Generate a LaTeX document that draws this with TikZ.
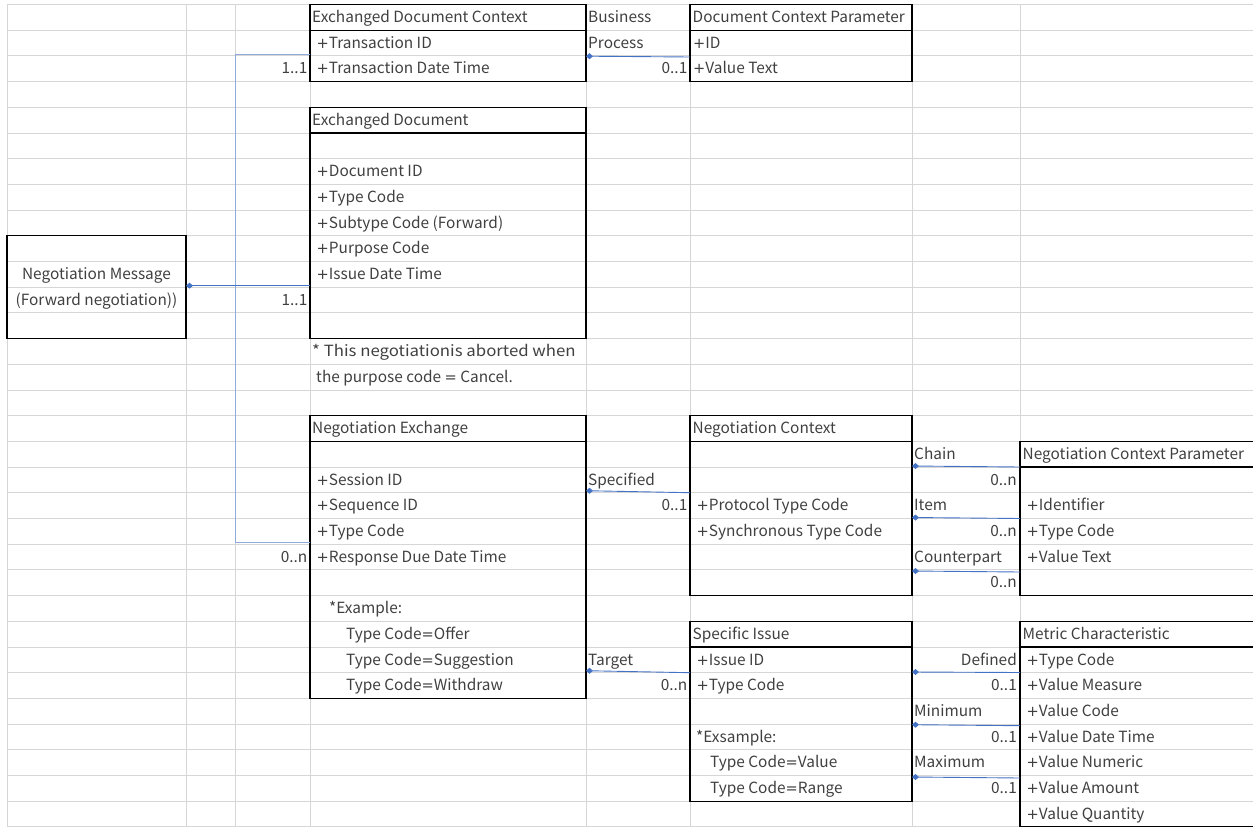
\documentclass[tikz,border=0pt]{standalone}
\usepackage{fontspec}
\usepackage{graphicx}
\setmainfont{Noto Sans CJK JP}
\newfontfamily\signfont{DejaVu Sans}
\usetikzlibrary{arrows.meta}

\definecolor{gridgray}{RGB}{214,214,214}
\definecolor{txt}{RGB}{64,64,64}
\definecolor{link}{RGB}{68,114,196}
\definecolor{buslink}{RGB}{143,170,220}

% baseline of spreadsheet row #1
\newcommand\rowbase[1]{4.5+25.7*(#1)+18}
% text cell: style, name, x, row, text
\newcommand\celltext[5]{\node[lbl,#1] (#2) at (#3,{\rowbase{#4}}) {#5};}
% wide operator signs
\newcommand\plussign{{\signfont\fontsize{14.6}{17}\selectfont +}}
\newcommand\eqsign{{\signfont\fontsize{14.6}{17}\selectfont =}}

\begin{document}
\begin{tikzpicture}[x=1pt,y=-1pt,
  grid/.style={draw=gridgray, line width=0.9pt},
  umlbox/.style={draw=black, line width=1.3pt, anchor=north west, inner sep=0, outer sep=0},
  sep/.style={draw=black, line width=1.3pt},
  lbl/.style={anchor=base west, inner sep=0, text=txt, font=\fontsize{15.4}{17}\selectfont},
  rt/.style={anchor=base east},
  ct/.style={anchor=base},
  link/.style={draw=link, line width=0.9pt, {Diamond[length=7pt,width=6pt]}-},
  bus/.style={draw=buslink, line width=1pt}]

\path[use as bounding box] (0,0) rectangle (1253,827);
\clip (0,0) rectangle (1253,827);

% sheet grid
\foreach \k in {0,...,32}
  \draw[grid] (7,{4.5+25.7*\k}) -- (1260,{4.5+25.7*\k});
\foreach \x in {7,186,235,310,586,690,912,1020}
  \draw[grid] (\x,4.5) -- (\x,830);

% class boxes
\node[umlbox, minimum width=276pt, minimum height=77.1pt] (edc) at (310,4.5) {};
\node[umlbox, minimum width=222pt, minimum height=77.1pt] (dcp) at (690,4.5) {};
\node[umlbox, minimum width=276pt, minimum height=231.3pt] (ed) at (310,107.3) {};
\node[umlbox, minimum width=179pt, minimum height=102.8pt] (nm) at (7,235.8) {};
\node[umlbox, minimum width=276pt, minimum height=282.7pt] (nx) at (310,415.7) {};
\node[umlbox, minimum width=222pt, minimum height=179.9pt] (nc) at (690,415.7) {};
\node[umlbox, minimum width=260pt, minimum height=154.2pt] (ncp) at (1020,441.4) {};
\node[umlbox, minimum width=222pt, minimum height=179.9pt] (si) at (690,621.3) {};
\node[umlbox, minimum width=260pt, minimum height=205.6pt] (mc) at (1020,621.3) {};

% header separators
\foreach \b in {edc,dcp,ed,nx,nc,ncp,si,mc}
  \draw[sep] ([yshift=-25.7pt]\b.north west) -- ([yshift=-25.7pt]\b.north east);

% Exchanged Document Context
\celltext{}{edcH}{312}{0}{Exchanged Document Context}
\celltext{}{edc1}{316.5}{1}{\plussign Transaction ID}
\celltext{}{edc2}{316.5}{2}{\plussign Transaction Date Time}
% Document Context Parameter
\celltext{}{dcpH}{692.5}{0}{Document Context Parameter}
\celltext{}{dcp1}{693}{1}{\plussign ID}
\celltext{}{dcp2}{693}{2}{\plussign Value Text}
% Exchanged Document
\celltext{}{edH}{312}{4}{Exchanged Document}
\celltext{}{ed1}{316.5}{6}{\plussign Document ID}
\celltext{}{ed2}{316.5}{7}{\plussign Type Code}
\celltext{}{ed3}{316.5}{8}{\plussign Subtype Code (Forward)}
\celltext{}{ed4}{316.5}{9}{\plussign Purpose Code}
\celltext{}{ed5}{316.5}{10}{\plussign Issue Date Time}
% Negotiation Message
\celltext{ct}{nm1}{96.5}{10}{Negotiation Message}
\celltext{ct}{nm2}{96.5}{11}{(Forward negotiation))}
% note below the document box
\celltext{}{note1}{312}{13}{\scalebox{1.09}[1]{* This negotiationis aborted when}}
\celltext{}{note2}{316}{14}{the purpose code {\eqsign} Cancel.}
% Negotiation Exchange
\celltext{}{nxH}{312}{16}{Negotiation Exchange}
\celltext{}{nx1}{316.5}{18}{\plussign Session ID}
\celltext{}{nx2}{316.5}{19}{\plussign Sequence ID}
\celltext{}{nx3}{316.5}{20}{\plussign Type Code}
\celltext{}{nx4}{316.5}{21}{\plussign Response Due Date Time}
\celltext{}{nx5}{329}{23}{*Example:}
\celltext{}{nx6}{346}{24}{Type Code\eqsign Offer}
\celltext{}{nx7}{346}{25}{Type Code\eqsign Suggestion}
\celltext{}{nx8}{346}{26}{Type Code\eqsign Withdraw}
% Negotiation Context
\celltext{}{ncH}{692.5}{16}{Negotiation Context}
\celltext{}{nc1}{696.5}{19}{\plussign Protocol Type Code}
\celltext{}{nc2}{696.5}{20}{\plussign Synchronous Type Code}
% Negotiation Context Parameter
\celltext{}{ncpH}{1022.5}{17}{Negotiation Context Parameter}
\celltext{}{ncp1}{1026.5}{19}{\plussign Identifier}
\celltext{}{ncp2}{1026.5}{20}{\plussign Type Code}
\celltext{}{ncp3}{1026.5}{21}{\plussign Value Text}
% Specific Issue
\celltext{}{siH}{692.5}{24}{Specific Issue}
\celltext{}{si1}{696.5}{25}{\plussign Issue ID}
\celltext{}{si2}{696.5}{26}{\plussign Type Code}
\celltext{}{si3}{696}{28}{*Exsample:}
\celltext{}{si4}{710}{29}{Type Code\eqsign Value}
\celltext{}{si5}{710}{30}{Type Code\eqsign Range}
% Metric Characteristic
\celltext{}{mcH}{1022.5}{24}{Metric Characteristic}
\celltext{}{mc1}{1026.5}{25}{\plussign Type Code}
\celltext{}{mc2}{1026.5}{26}{\plussign Value Measure}
\celltext{}{mc3}{1026.5}{27}{\plussign Value Code}
\celltext{}{mc4}{1026.5}{28}{\plussign Value Date Time}
\celltext{}{mc5}{1026.5}{29}{\plussign Value Numeric}
\celltext{}{mc6}{1026.5}{30}{\plussign Value Amount}
\celltext{}{mc7}{1026.5}{31}{\plussign Value Quantity}

% role names and multiplicities
\celltext{rt}{m1}{307.5}{2}{1..1}
\celltext{rt}{m2}{307.5}{11}{1..1}
\celltext{rt}{m3}{307.5}{21}{0..n}
\celltext{}{r1}{588}{0}{Business}
\celltext{}{r2}{588}{1}{Process}
\celltext{rt}{m4}{687.5}{2}{0..1}
\celltext{}{r3}{588}{18}{Specified}
\celltext{rt}{m5}{687.5}{19}{0..1}
\celltext{}{r4}{588}{25}{Target}
\celltext{rt}{m6}{687.5}{26}{0..n}
\celltext{}{r5}{914}{17}{Chain}
\celltext{rt}{m7}{1017}{18}{0..n}
\celltext{}{r6}{914}{19}{Item}
\celltext{rt}{m8}{1017}{20}{0..n}
\celltext{}{r7}{914}{21}{Counterpart}
\celltext{rt}{m9}{1017}{22}{0..n}
\celltext{rt}{r8}{1017}{25}{Defined}
\celltext{rt}{m10}{1017}{26}{0..1}
\celltext{}{r9}{914}{27}{Minimum}
\celltext{rt}{m11}{1017}{28}{0..1}
\celltext{}{r10}{914}{29}{Maximum}
\celltext{rt}{m12}{1017}{30}{0..1}

% associations
\coordinate (busx) at (235,0);
\coordinate (b1) at ([yshift=-50pt]edc.north west);
\coordinate (b2) at ([yshift=-127pt]nx.north west);
\draw[bus] (b1) -- (b1 -| busx) -- (busx |- b2) -- (b2);
\draw[link] ([yshift=1.5pt]nm.east) coordinate (m0) -- (ed.west |- m0);

\draw[link] ([yshift=-51.7pt]edc.north east) -- ([yshift=-52.5pt]dcp.north west);
\draw[link] ([yshift=-75pt]nx.north east) -- ([yshift=-77pt]nc.north west);
\draw[link] ([yshift=-255pt]nx.north east) -- ([yshift=-51.4pt]si.north west);

\draw[link] ([yshift=-50.3pt]nc.north east) -- ([yshift=-25.6pt]ncp.north west);
\draw[link] ([yshift=-101.8pt]nc.north east) -- ([yshift=-77.1pt]ncp.north west);
\draw[link] ([yshift=-155.3pt]nc.north east) -- ([yshift=-130.6pt]ncp.north west);

\draw[link] ([yshift=-50.7pt]si.north east) -- ([yshift=-51.2pt]mc.north west);
\draw[link] ([yshift=-103.4pt]si.north east) -- ([yshift=-104.4pt]mc.north west);
\draw[link] ([yshift=-155.7pt]si.north east) -- ([yshift=-156.7pt]mc.north west);

\end{tikzpicture}
\end{document}
